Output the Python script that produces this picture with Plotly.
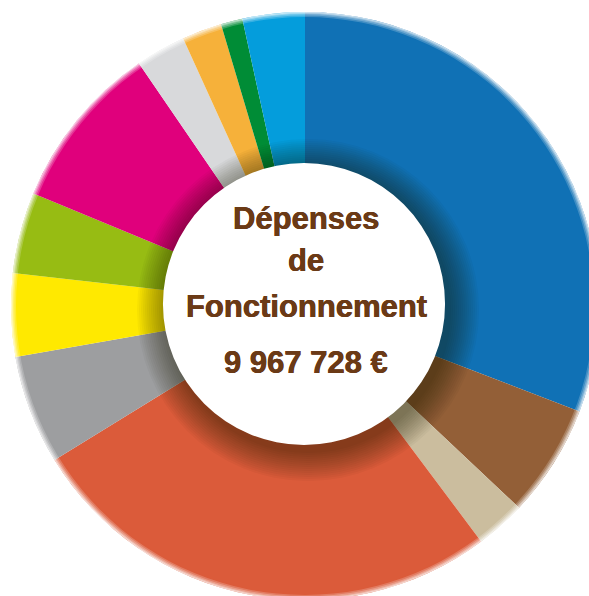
import plotly.graph_objects as go

# ---- data (shares of total, clockwise from 12 o'clock) ----
categories = ["Poste 1", "Poste 2", "Poste 3", "Poste 4", "Poste 5", "Poste 6",
              "Poste 7", "Poste 8", "Poste 9", "Poste 10", "Poste 11", "Poste 12"]
values = [30.83, 6.19, 2.75, 26.44, 6.00, 4.56, 4.47, 9.19, 2.75, 2.19, 1.19, 3.42]
colors = ["#1071b5", "#935f37", "#cbbd9e", "#db5b3a", "#9d9ea0", "#ffe900",
          "#97bc13", "#e0007c", "#d8d9db", "#f6b13a", "#008c36", "#049ddc"]
title_lines = ["Dépenses", "de", "Fonctionnement"]
total_label = "9 967 728 €"

# ---- geometry (pixels) ----
W, H = 610, 606
CX, CY, R = 305, 306, 294       # outer ring
HX, HY, HR = 304, 304, 141      # white centre disc


def dom(cx, cy, r):
    return dict(x=[(cx - r) / W, (cx + r) / W],
                y=[1 - (cy + r) / H, 1 - (cy - r) / H])


fig = go.Figure()

fig.add_trace(go.Pie(
    labels=categories, values=values, sort=False, direction="clockwise",
    rotation=0, hole=0.4, textinfo="none", showlegend=False,
    marker=dict(colors=colors, line=dict(width=0)),
    domain=dom(CX, CY, R),
))

# soft outer edge
for w, a in [(5, 0.2), (3.5, 0.25), (2, 0.35), (1, 0.45)]:
    fig.add_trace(go.Pie(
        values=[1], labels=["edge"], hole=(R - w) / R, textinfo="none",
        hoverinfo="skip", showlegend=False, sort=False,
        marker=dict(colors=[f"rgba(255,255,255,{a})"], line=dict(width=0)),
        domain=dom(CX, CY, R),
    ))

# drop shadow around the centre disc (many faint discs -> smooth gradient)
for dr in range(30, 0, -2):
    fig.add_trace(go.Pie(
        values=[1], labels=["shadow"], textinfo="none", hoverinfo="skip",
        showlegend=False, sort=False,
        marker=dict(colors=["rgba(30,15,5,0.036)"], line=dict(width=0)),
        domain=dom(HX + 4, HY + 6, HR + dr),
    ))

# white centre disc
fig.add_trace(go.Pie(
    values=[1], labels=["centre"], textinfo="none", hoverinfo="skip",
    showlegend=False, sort=False,
    marker=dict(colors=["white"], line=dict(width=0)),
    domain=dom(HX, HY, HR),
))

text_color = "#6b3a16"
font = dict(family="Liberation Sans, Arial, sans-serif", size=31,
            color=text_color, weight="bold",
            shadow="0.35px 0 0 #6b3a16, -0.35px 0 0 #6b3a16")
line_y = [218, 261, 306.5]
annots = []
for txt, yy in zip(title_lines, line_y):
    annots.append(dict(text=txt, x=306 / W, y=1 - yy / H, xref="paper", yref="paper",
                       xanchor="center", yanchor="middle", showarrow=False, font=font))
annots.append(dict(text=total_label, x=306 / W, y=1 - 362.5 / H, xref="paper", yref="paper",
                   xanchor="center", yanchor="middle", showarrow=False, font=font))

fig.update_layout(
    width=W, height=H, autosize=False,
    margin=dict(l=0, r=0, t=0, b=0),
    paper_bgcolor="white", plot_bgcolor="white",
    showlegend=False, annotations=annots,
)

fig.write_html(
    "out.html",
    config={"displayModeBar": False},
    post_script="document.body.style.margin='0';document.body.style.overflow='hidden';"
                "document.documentElement.style.overflow='hidden';",
)
